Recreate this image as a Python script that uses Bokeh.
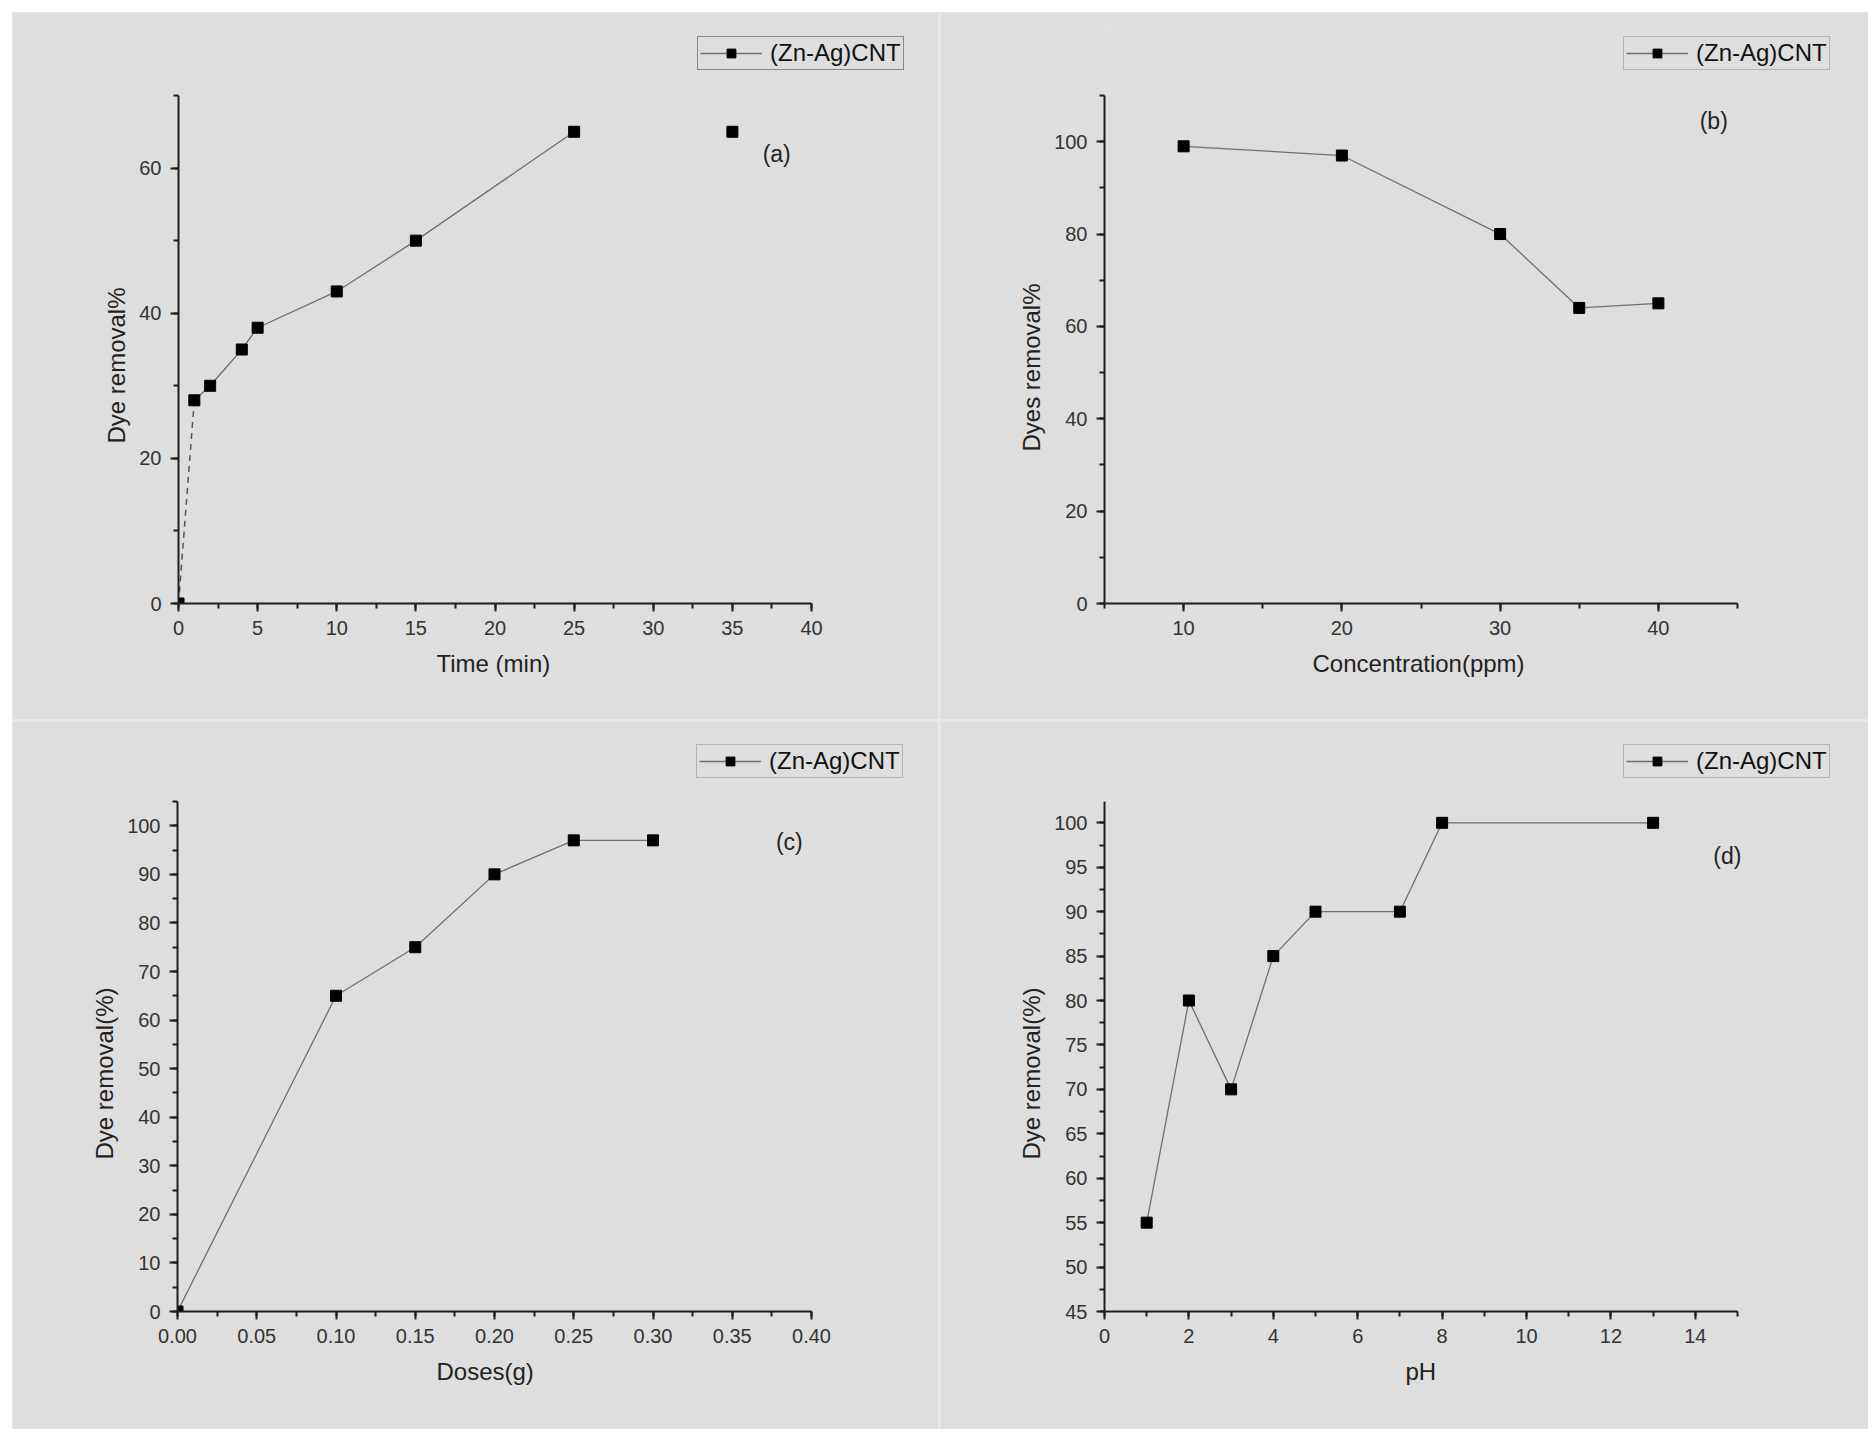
from bokeh.plotting import figure
from bokeh.models import (SingleIntervalTicker, Label, Legend, LegendItem, Range1d,
                          PrintfTickFormatter, Title)
from bokeh.layouts import column, row
from bokeh.embed import file_html
from bokeh.resources import INLINE

# ---------------- data ----------------
series_name = "(Zn-Ag)CNT"

time_min = [0, 1, 2, 4, 5, 10, 15, 25, 35]
removal_time = [0, 28, 30, 35, 38, 43, 50, 65, 65]

conc_ppm = [10, 20, 30, 35, 40]
removal_conc = [99, 97, 80, 64, 65]

dose_g = [0.0, 0.10, 0.15, 0.20, 0.25, 0.30]
removal_dose = [0, 65, 75, 90, 97, 97]

ph_values = [1, 2, 3, 4, 5, 7, 8, 13]
removal_ph = [55, 80, 70, 85, 90, 90, 100, 100]

# ---------------- style ----------------
BG = "#dedede"
FONT = "Liberation Sans"
LINE_COLOR = "#707070"
FRAME_TOP = 12      # frame extends above the axes so that legend/labels are not clipped
FRAME_RIGHT_PAD = 8


def make_panel(w, h, axbox, xr, yr, xint, yint, xlabel, ylabel, tag, tag_xy,
               xlab_off, ylab_off, xfmt=None):
    """axbox = pixel box (left, right, top, bottom) of the axes inside the panel."""
    ax_l, ax_r, ax_t, ax_b = axbox
    fr_r = w - FRAME_RIGHT_PAD
    x_per_px = (xr[1] - xr[0]) / (ax_r - ax_l)
    y_per_px = (yr[1] - yr[0]) / (ax_b - ax_t)
    x_end = xr[1] + (fr_r - ax_r) * x_per_px
    y_end = yr[1] + (ax_t - FRAME_TOP) * y_per_px
    p = figure(width=w, height=h, output_backend="svg", toolbar_location=None,
               x_range=Range1d(xr[0], x_end), y_range=Range1d(yr[0], y_end),
               min_border_left=ax_l, min_border_right=w - fr_r,
               min_border_top=FRAME_TOP, min_border_bottom=h - ax_b)
    p.background_fill_color = BG
    p.border_fill_color = BG
    p.outline_line_color = None
    p.xgrid.visible = False
    p.ygrid.visible = False
    p.xaxis.ticker = SingleIntervalTicker(interval=xint, num_minor_ticks=2)
    p.yaxis.ticker = SingleIntervalTicker(interval=yint, num_minor_ticks=2)
    p.xaxis.bounds = tuple(xr)
    p.yaxis.bounds = tuple(yr)
    if xfmt:
        p.xaxis.formatter = PrintfTickFormatter(format=xfmt)
    for ax in (p.xaxis, p.yaxis):
        ax.axis_line_width = 2
        ax.axis_line_color = "#1e1e1e"
        ax.major_tick_line_width = 2
        ax.major_tick_line_color = "#1e1e1e"
        ax.minor_tick_line_width = 2
        ax.minor_tick_line_color = "#1e1e1e"
        ax.major_tick_in = 0
        ax.major_tick_out = 8
        ax.minor_tick_in = 0
        ax.minor_tick_out = 5
        ax.major_label_text_font = FONT
        ax.major_label_text_font_size = "20px"
        ax.major_label_text_color = "#333333"
        ax.major_label_standoff = 9
    # axis titles placed as side-panel titles so they stay centred on the drawn axes
    p.add_layout(Title(text=xlabel, align="left", offset=xlab_off, standoff=21,
                       text_font=FONT, text_font_size="24px",
                       text_font_style="normal", text_color="#222222"), "below")
    p.add_layout(Title(text=ylabel, align="left", offset=ylab_off, standoff=13,
                       text_font=FONT, text_font_size="24px",
                       text_font_style="normal", text_color="#222222"), "left")
    p.add_layout(Label(x=tag_xy[0], y=tag_xy[1], text=tag, text_font=FONT,
                       text_font_size="23px", text_color="#222222",
                       text_align="center", text_baseline="middle"))
    return p


def add_legend(p, renderers, border):
    leg = Legend(items=[LegendItem(label=series_name, renderers=renderers)],
                 location=(519, 533), padding=2, margin=0, spacing=0,
                 glyph_width=62, glyph_height=22, label_standoff=8,
                 label_text_font=FONT, label_text_font_size="24px",
                 label_text_color="#111111", border_line_color=border,
                 border_line_width=1.5, background_fill_alpha=0)
    p.add_layout(leg)


# ---- (a) ----
pa = make_panel(926, 707, (166, 799, 83, 591), (0, 40), (0, 70), 5, 20,
                "Time (min)", "Dye removal%", "(a)", (37.8, 62), 258, 160)
la = pa.line(time_min[1:8], removal_time[1:8], line_color=LINE_COLOR, line_width=1.3)
pa.line(time_min[0:2], removal_time[0:2], line_color="#555555", line_width=1.5,
        line_dash="6 5")
sa = pa.scatter(time_min, removal_time, marker="square", size=11,
                fill_color="black", line_color="black")
add_legend(pa, [la, sa], "#333333")

# ---- (b) ----
pb = make_panel(928, 707, (164, 797, 83, 591), (5, 45), (0, 110), 10, 20,
                "Concentration(ppm)", "Dyes removal%", "(b)", (43.5, 104.5), 208, 152)
lb = pb.line(conc_ppm, removal_conc, line_color=LINE_COLOR, line_width=1.3)
sb = pb.scatter(conc_ppm, removal_conc, marker="square", size=11,
                fill_color="black", line_color="black")
add_legend(pb, [lb, sb], "#8a8a8a")

# ---- (c) ----
pc = make_panel(926, 708, (165, 799, 80, 590), (0, 0.40), (0, 105), 0.05, 10,
                "Doses(g)", "Dye removal(%)", "(c)", (0.386, 96.6), 259, 152,
                xfmt="%.2f")
lc = pc.line(dose_g, removal_dose, line_color=LINE_COLOR, line_width=1.3)
sc = pc.scatter(dose_g, removal_dose, marker="square", size=11,
                fill_color="black", line_color="black")
add_legend(pc, [lc, sc], "#8a8a8a")

# ---- (d) ----
pd_ = make_panel(928, 708, (164, 797, 80, 590), (0, 15), (45, 102.4), 2, 5,
                 "pH", "Dye removal(%)", "(d)", (14.76, 96.3), 301, 152)
ld = pd_.line(ph_values, removal_ph, line_color=LINE_COLOR, line_width=1.3)
sd = pd_.scatter(ph_values, removal_ph, marker="square", size=11,
                 fill_color="black", line_color="black")
add_legend(pd_, [ld, sd], "#8a8a8a")

layout = column(row(pa, pb, spacing=2), row(pc, pd_, spacing=2), spacing=2,
                margin=(12, 0, 0, 12), styles={"background-color": "#e9e9e9"})

open("out.html", "w").write(file_html(layout, INLINE))
